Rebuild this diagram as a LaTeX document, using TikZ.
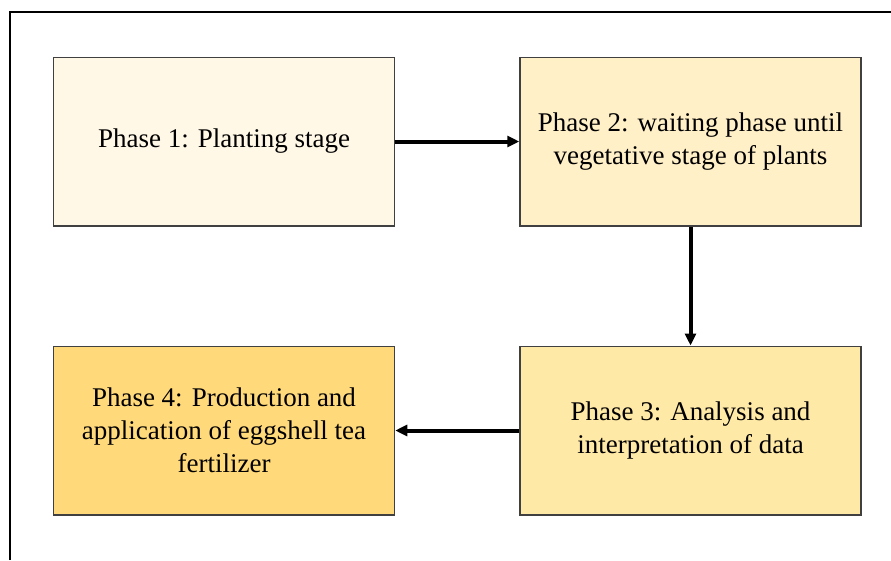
\documentclass[tikz,border=0pt]{standalone}
\usepackage{fontspec}
\setmainfont{LiberationSerif}[Extension=.ttf, UprightFont=*-Regular, BoldFont=*-Bold]
\usepackage{tikz}
\usetikzlibrary{positioning,arrows.meta}

\begin{document}
\begin{tikzpicture}[
			phasebox/.style={rectangle, draw=black!75, line width=1.5pt, minimum width=341pt, minimum height=168.5pt, align=center, font=\fontsize{27}{33}\selectfont},
			flow/.style={-{Triangle[length=12pt,width=11pt]}, line width=4pt},
		]
		
			\useasboundingbox (0,0) rectangle (891pt,-560pt);
			
			%Frame
			\draw[line width=2pt] (10pt,-560pt) -- (10pt,-12pt) -- (891pt,-12pt);
		
			%Nodes
			\node[phasebox, fill={rgb,255:red,255;green,248;blue,230}]	(p1) at (224pt,-141.5pt)	{Phase 1: Planting stage};
			\node[phasebox, fill={rgb,255:red,255;green,240;blue,200}]	(p2)[right=124pt of p1]	{Phase 2: waiting phase until\\vegetative stage of plants};
			\node[phasebox, fill={rgb,255:red,255;green,233;blue,166}]	(p3)[below=119pt of p2]	{Phase 3: Analysis and\\interpretation of data};
			\node[phasebox, fill={rgb,255:red,255;green,217;blue,122}]	(p4)[left=124pt of p3]	{Phase 4: Production and\\application of eggshell tea\\fertilizer};
		
			%Lines
			\draw[flow]	(p1.east) -- (p2.west);
			\draw[flow]	(p2.south) -- (p3.north);
			\draw[flow]	(p3.west) -- (p4.east);
		
		\end{tikzpicture}
\end{document}
